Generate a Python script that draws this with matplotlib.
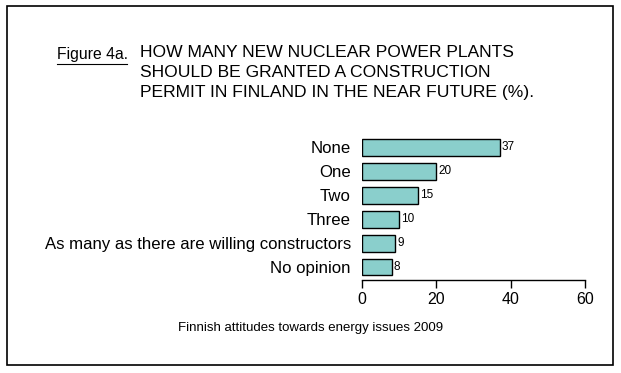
import matplotlib.pyplot as plt
from matplotlib.lines import Line2D
from matplotlib.patches import Rectangle

plt.rcParams['font.family'] = ['Liberation Sans', 'DejaVu Sans']

categories = ['None', 'One', 'Two', 'Three',
              'As many as there are willing constructors', 'No opinion']
values = [37, 20, 15, 10, 9, 8]
xticks = [0, 20, 40, 60]


def main():
    fig = plt.figure(figsize=(6.21, 3.73), dpi=100)
    fig.patches.append(Rectangle((7 / 621, 1 - 365 / 373), 606 / 621, 359 / 373,
                                 transform=fig.transFigure, fill=False,
                                 edgecolor='black', linewidth=1.2))

    ax = fig.add_axes([362 / 621, 1 - 280 / 373, 223 / 621, 144.5 / 373])
    ypos = list(range(len(categories) - 1, -1, -1))
    ax.barh(ypos, values, height=0.7, color='#8acfcc', edgecolor='black',
            linewidth=1.0)
    for y, v in zip(ypos, values):
        ax.text(v + 0.6, y, str(v), va='center', ha='left', fontsize=8.5)

    ax.set_xlim(0, 60)
    ax.set_ylim(-0.54, 5.5)
    ax.set_yticks(ypos)
    ax.set_yticklabels(categories, fontsize=12.1)
    ax.tick_params(axis='y', length=0, pad=8)
    ax.set_xticks(xticks)
    ax.tick_params(axis='x', labelsize=11.5, length=6, width=1, pad=3)
    for s in ['top', 'right', 'left']:
        ax.spines[s].set_visible(False)
    ax.spines['bottom'].set_linewidth(1)

    fig.text(57 / 621, 1 - 55 / 373, 'Figure 4a.', fontsize=11.3, va='center')
    fig.lines.append(Line2D([57 / 621, 127 / 621], [1 - 63.5 / 373, 1 - 63.5 / 373],
                            transform=fig.transFigure, color='black', linewidth=0.8))
    fig.text(140 / 621, 1 - 45 / 373,
             'HOW MANY NEW NUCLEAR POWER PLANTS\nSHOULD BE GRANTED A CONSTRUCTION\n'
             'PERMIT IN FINLAND IN THE NEAR FUTURE (%).',
             fontsize=12.6, va='top', ha='left', linespacing=1.42)
    fig.text(311 / 621, 1 - 328 / 373, 'Finnish attitudes towards energy issues 2009',
             fontsize=9.5, ha='center', va='center')

    fig.savefig('out.png', dpi=100)


if __name__ == '__main__':
    main()
